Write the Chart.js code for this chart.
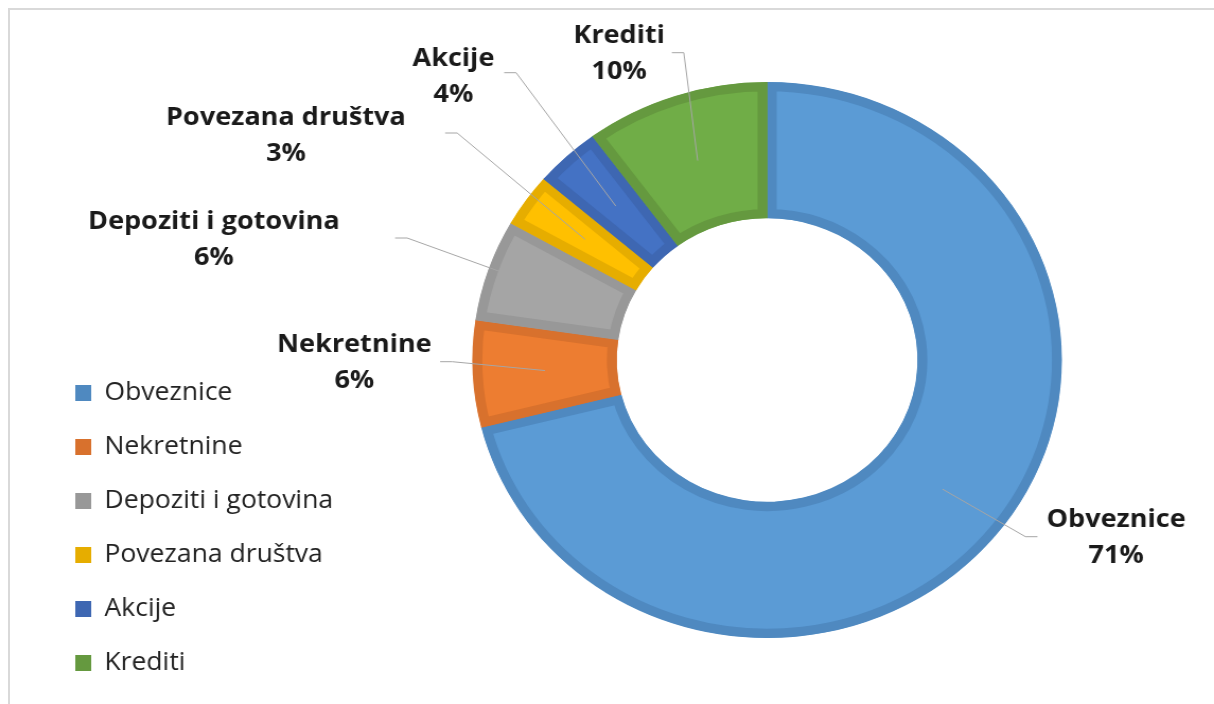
<!DOCTYPE html>
<html lang="hr">
<head>
  <meta charset="UTF-8" />
  <title>Struktura ulaganja</title>
  <script src="https://cdn.jsdelivr.net/npm/chart.js"></script>
  <style>
    html, body { margin: 0; padding: 0; background: #fff; overflow: hidden; }
    body { width: 1214px; height: 704px; position: relative; }
    #frame {
      position: absolute; left: 8px; top: 8px; width: 1400px; height: 900px;
      border-left: 2px solid #d9d9d9; border-top: 2px solid #d9d9d9;
    }
    /* the reference picture is slightly wider than tall, so stretch the canvas a bit */
    #chart { position: absolute; left: 0; top: 0; transform: scaleX(1.0603); transform-origin: 0 0; }
  </style>
</head>
<body>
  <div id="frame"></div>
  <canvas id="chart" width="1145" height="704" style="width:1145px;height:704px"></canvas>

  <script>
    // data
    const categories = ['Obveznice', 'Nekretnine', 'Depoziti i gotovina', 'Povezana društva', 'Akcije', 'Krediti'];
    const shares = [71.1, 6.2, 5.9, 3.1, 3.6, 10.1];

    // look
    const SX = 1.0603;
    const fills   = ['#5b9bd5', '#ed7d31', '#a5a5a5', '#ffc000', '#4472c4', '#70ad47'];
    const borders = ['#4f89c0', '#d8712d', '#989898', '#e6ad00', '#3e67b2', '#65993f'];

    // label placement, page px relative to the ring centre: label centre, leader start, stub direction
    const labelLayout = [
      { lx: 349,    ly: 178,    sx: 270.3,  sy: 176.7,  dir: -1 },
      { lx: -412.8, ly: 3,      sx: -327,   sy: 1.7,    dir: 1 },
      { lx: -553.2, ly: -120,   sx: -372,   sy: -122,   dir: 1 },
      { lx: -481.2, ly: -224.5, sx: -322,   sy: -227,   dir: 1 },
      { lx: -313.7, ly: -283,   sx: -263,   sy: -287.3, dir: 1 },
      { lx: -148,   ly: -306,   sx: -95.3,  sy: -307.3, dir: 1 }
    ];

    Chart.defaults.font.family = "'Open Sans', sans-serif";

    // move the legend to the lower left, where the reference has it
    const legendPlace = {
      id: 'legendPlace',
      afterLayout(chart) {
        const lg = chart.legend;
        const w = lg.width;
        lg.left = 42;
        lg.right = 42 + w;
        lg.top = 351.5;
        lg.bottom = 900;
        lg.height = lg.bottom - lg.top;
      }
    };

    // data labels with leader lines
    const sliceLabels = {
      id: 'sliceLabels',
      afterDatasetsDraw(chart) {
        const ctx = chart.ctx;
        const meta = chart.getDatasetMeta(0);
        const total = shares.reduce((a, b) => a + b, 0);
        meta.data.forEach((arc, i) => {
          const lay = labelLayout[i];
          const p = arc.getCenterPoint();
          const cx = arc.x + lay.lx / SX, cy = arc.y + lay.ly;
          const sx = arc.x + lay.sx / SX, sy = arc.y + lay.sy;
          const ex = sx + lay.dir * 12 / SX;

          ctx.save();
          ctx.strokeStyle = '#a6a6a6';
          ctx.lineWidth = 1;
          ctx.beginPath();
          ctx.moveTo(sx, sy);
          ctx.lineTo(ex, sy);
          ctx.lineTo(p.x, p.y);
          ctx.stroke();

          ctx.fillStyle = '#1a1a1a';
          ctx.font = "bold 25.5px 'Open Sans'";
          ctx.textAlign = 'center';
          ctx.textBaseline = 'middle';
          ctx.fillText(categories[i], cx, cy - 18);
          ctx.fillText(Math.round(shares[i] / total * 100) + '%', cx, cy + 18);
          ctx.restore();
        });
      }
    };

    new Chart(document.getElementById('chart'), {
      type: 'doughnut',
      data: {
        labels: categories,
        datasets: [{
          data: shares,
          backgroundColor: fills,
          borderColor: borders,
          borderWidth: 9,
          borderAlign: 'inner',
          borderJoinStyle: 'miter'
        }]
      },
      options: {
        responsive: false,
        animation: false,
        events: [],
        radius: 278,
        cutout: '51%',
        layout: { padding: { left: 423, right: 121, top: 60, bottom: 44 } },
        plugins: {
          tooltip: { enabled: false },
          legend: {
            position: 'chartArea',
            align: 'start',
            labels: {
              color: '#222',
              font: { size: 25 },
              boxWidth: 15,
              boxHeight: 16,
              padding: 29,
              generateLabels(chart) {
                const items = Chart.overrides.doughnut.plugins.legend.labels.generateLabels(chart);
                items.forEach((it, i) => {
                  it.fillStyle = borders[i];
                  it.strokeStyle = borders[i];
                  it.lineWidth = 0;
                });
                return items;
              }
            }
          }
        }
      },
      plugins: [legendPlace, sliceLabels]
    });
  </script>
</body>
</html>
